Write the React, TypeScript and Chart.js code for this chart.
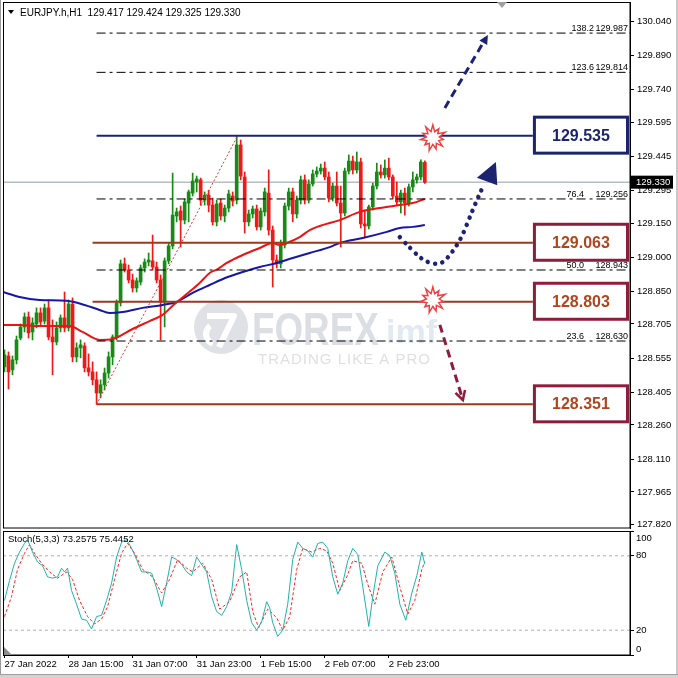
import React, { useEffect, useRef } from 'react';
import { Chart, registerables } from 'chart.js';

Chart.register(...registerables);

const FONT = '"Liberation Sans", Arial, sans-serif';

// ---------------- values ----------------
const symbolName = 'EURJPY.h,H1';
const lastQuote = ['129.417', '129.424', '129.325', '129.330'];

const openP = [
  128.516, 128.564, 128.503, 128.547, 128.643, 128.692, 128.736, 128.670, 128.705, 128.754,
  128.718, 128.776, 128.648, 128.626, 128.688, 128.732, 128.688, 128.793, 128.560, 128.600,
  128.608, 128.512, 128.494, 128.459, 128.401, 128.437, 128.489, 128.560, 128.648, 128.798,
  128.970, 128.943, 128.899, 128.864, 128.890, 128.952, 128.978, 128.983, 128.956, 128.899,
  128.807, 128.983, 129.049, 129.181, 129.203, 129.163, 129.238, 129.282, 129.331, 129.340,
  129.251, 129.273, 129.229, 129.155, 129.238, 129.181, 129.216, 129.269, 129.251, 129.494,
  129.353, 129.155, 129.190, 129.212, 129.133, 129.199, 129.282, 129.119, 128.987, 128.970,
  129.053, 129.225, 129.287, 129.190, 129.251, 129.340, 129.251, 129.322, 129.366, 129.379,
  129.392, 129.353, 129.260, 129.313, 129.238, 129.194, 129.379, 129.423, 129.384, 129.419,
  129.146, 129.137, 129.221, 129.313, 129.375, 129.362, 129.392, 129.353, 129.269, 129.243,
  129.282, 129.238, 129.309, 129.340, 129.353, 129.417,
];
const highP = [
  128.591, 128.582, 128.564, 128.652, 128.705, 128.754, 128.758, 128.732, 128.776, 128.776,
  128.793, 128.811, 128.723, 128.714, 128.745, 128.846, 128.811, 128.820, 128.622, 128.635,
  128.622, 128.573, 128.538, 128.494, 128.459, 128.511, 128.582, 128.657, 128.811, 128.987,
  128.996, 128.965, 128.925, 128.908, 128.965, 128.992, 129.018, 129.097, 128.978, 128.921,
  128.996, 129.062, 129.370, 129.216, 129.225, 129.256, 129.295, 129.370, 129.357, 129.348,
  129.287, 129.295, 129.260, 129.251, 129.256, 129.229, 129.295, 129.287, 129.535, 129.516,
  129.375, 129.207, 129.225, 129.229, 129.216, 129.304, 129.384, 129.137, 129.009, 129.075,
  129.238, 129.304, 129.304, 129.269, 129.357, 129.362, 129.340, 129.384, 129.397, 129.410,
  129.419, 129.375, 129.326, 129.375, 129.313, 129.392, 129.450, 129.445, 129.463, 129.436,
  129.207, 129.229, 129.326, 129.414, 129.406, 129.428, 129.436, 129.362, 129.331, 129.295,
  129.304, 129.322, 129.375, 129.366, 129.428, 129.424,
];
const lowP = [
  128.494, 128.419, 128.481, 128.529, 128.635, 128.670, 128.643, 128.635, 128.688, 128.696,
  128.705, 128.635, 128.481, 128.613, 128.670, 128.670, 128.674, 128.538, 128.538, 128.556,
  128.494, 128.476, 128.437, 128.351, 128.379, 128.414, 128.467, 128.525, 128.635, 128.784,
  128.934, 128.886, 128.846, 128.846, 128.877, 128.934, 128.961, 128.943, 128.886, 128.635,
  128.692, 128.970, 129.036, 129.155, 129.044, 129.146, 129.155, 129.269, 129.287, 129.229,
  129.229, 129.199, 129.141, 129.137, 129.163, 129.155, 129.199, 129.225, 129.234, 129.340,
  129.106, 129.137, 129.172, 129.119, 129.119, 129.181, 129.097, 128.868, 128.952, 128.952,
  129.040, 129.207, 129.155, 129.172, 129.234, 129.234, 129.238, 129.313, 129.353, 129.366,
  129.340, 129.243, 129.247, 129.225, 129.044, 129.181, 129.366, 129.366, 129.370, 129.128,
  129.088, 129.124, 129.207, 129.300, 129.348, 129.348, 129.340, 129.256, 129.229, 129.194,
  129.185, 129.225, 129.287, 129.326, 129.340, 129.325,
];
const closeP = [
  128.569, 128.494, 128.547, 128.635, 128.692, 128.736, 128.666, 128.710, 128.754, 128.714,
  128.776, 128.648, 128.626, 128.688, 128.732, 128.688, 128.793, 128.560, 128.600, 128.613,
  128.512, 128.494, 128.459, 128.401, 128.437, 128.489, 128.560, 128.648, 128.798, 128.970,
  128.943, 128.899, 128.864, 128.895, 128.952, 128.978, 128.987, 128.956, 128.899, 128.802,
  128.983, 129.049, 129.185, 129.199, 129.163, 129.243, 129.287, 129.335, 129.344, 129.251,
  129.273, 129.229, 129.155, 129.234, 129.181, 129.216, 129.278, 129.247, 129.494, 129.357,
  129.155, 129.190, 129.212, 129.133, 129.203, 129.287, 129.119, 128.987, 128.970, 129.058,
  129.225, 129.287, 129.190, 129.251, 129.340, 129.251, 129.322, 129.366, 129.379, 129.392,
  129.353, 129.260, 129.313, 129.238, 129.194, 129.379, 129.423, 129.384, 129.419, 129.146,
  129.137, 129.221, 129.313, 129.375, 129.362, 129.392, 129.353, 129.269, 129.243, 129.282,
  129.238, 129.309, 129.340, 129.353, 129.419, 129.330,
];

// moving averages: [bar, price]
const maRed: number[][] = [
  [-0.375, 128.701], [3.75, 128.701], [8.75, 128.696], [13.75, 128.696], [16.25, 128.696],
  [19.5, 128.67], [23.75, 128.635], [27, 128.639], [32, 128.683], [36.25, 128.718],
  [39.5, 128.745], [42, 128.785], [45.5, 128.837], [48.75, 128.886], [51.25, 128.93],
  [53.25, 128.947], [55.5, 128.974], [59.5, 129.009], [63.75, 129.04], [67, 129.062],
  [68.75, 129.053], [70.5, 129.062], [73.75, 129.088], [76.25, 129.119], [78.75, 129.137],
  [83.75, 129.163], [88.75, 129.199], [93.75, 129.216], [98.75, 129.229], [102, 129.238],
  [105, 129.256],
];
const maBlue: number[][] = [
  [-0.375, 128.846], [3.75, 128.824], [8.75, 128.811], [15.5, 128.807], [20, 128.789],
  [23.75, 128.767], [26.25, 128.754], [29.5, 128.758], [34.5, 128.776], [39.5, 128.789],
  [43, 128.802], [47, 128.842], [51.25, 128.877], [55.75, 128.912], [59.5, 128.934],
  [63.75, 128.956], [68, 128.974], [72, 128.996], [76.25, 129.018], [81.25, 129.044],
  [83.75, 129.062], [89.5, 129.084], [95.5, 129.111], [98.75, 129.128], [102, 129.133],
  [105, 129.141],
];

// stochastic %K and %D: [bar, value]
const stochK: number[][] = [
  [0, 44], [1.25, 60], [2.5, 74], [3.75, 83], [5, 90], [5.75, 93], [7, 83], [8.25, 75], [9.5, 72],
  [10.75, 63], [12, 62], [13.25, 63], [14.25, 70], [15, 67], [15.75, 70], [16.75, 52], [18, 41],
  [19.25, 29], [20.5, 28], [21.75, 21], [23, 31], [24.25, 32], [25.5, 44], [26.75, 58], [28, 79],
  [29.25, 91], [30.5, 93], [31.75, 86], [33, 77], [34.25, 67], [35.5, 67], [36.75, 66], [38, 54],
  [39.25, 39], [40.5, 58], [41.75, 79], [43, 77], [44.25, 73], [45.5, 67], [46.75, 64], [48, 79],
  [49.25, 73], [50.5, 67], [51.75, 47], [53, 35], [54.25, 32], [55.5, 39], [56.75, 51], [58, 89],
  [59.25, 69], [60.5, 44], [61.75, 26], [63, 20], [64.25, 27], [65.5, 43], [66.25, 38], [67, 26],
  [68.25, 15], [69.5, 20], [70.75, 41], [72, 77], [73.25, 91], [74.5, 86], [75.75, 84], [77, 79],
  [78.25, 90], [79.5, 91], [80.75, 86], [82, 63], [83.25, 49], [84.5, 58], [85.75, 76], [87, 86],
  [88.25, 81], [89.5, 55], [91, 23], [92, 47], [93.25, 72], [95, 83], [96.25, 80], [97.5, 66],
  [98.75, 41], [100.25, 28], [101.75, 50], [103, 64], [104.25, 83], [105, 73.2575],
];
const stochD: number[][] = [
  [0, 31], [1.75, 47], [3.25, 69], [5, 82], [6.25, 89], [7.5, 82], [9.25, 74], [11.25, 67],
  [13.25, 62], [15.5, 67], [17, 61], [18.75, 44], [20.75, 31], [22.5, 25], [24.25, 29],
  [25.75, 39], [27.5, 61], [29.25, 82], [30.75, 90], [32.5, 82], [34.5, 69], [37, 63],
  [39.25, 50], [41.25, 61], [43.25, 77], [45.5, 70], [47, 67], [49.5, 74], [51.75, 61],
  [53.75, 37], [56.25, 43], [58.75, 63], [60.5, 67], [62, 35], [63.5, 22], [65.75, 37],
  [68, 30], [69.5, 20], [71.25, 31], [73, 69], [74.5, 86], [76.75, 83], [78.75, 86], [80.5, 84],
  [82, 74], [83.75, 52], [85.5, 63], [87, 76], [89.25, 74], [90.75, 57], [92.5, 41], [94.5, 67],
  [96.75, 79], [98.75, 55], [100.75, 33], [102.5, 44], [104.25, 69], [105, 75.4452],
];
const stochTitle = 'Stoch(5,3,3) 73.2575 75.4452';

const timeLabels = ['27 Jan 2022', '28 Jan 15:00', '31 Jan 07:00', '31 Jan 23:00', '1 Feb 15:00', '2 Feb 07:00', '2 Feb 23:00'];
const timeLabelBars = [0, 16, 32, 48, 64, 80, 96];
const priceTicks = [130.04, 129.89, 129.74, 129.595, 129.445, 129.295, 129.15, 129.0, 128.85, 128.705, 128.555, 128.405, 128.26, 128.11, 127.965, 127.82];
const stochTickValues = [100, 80, 20, 0];
const stochLevels = [80, 20];

const fibRatios = ['138.2', '123.6', '76.4', '50.0', '23.6'];
const fibPrices = [129.987, 129.814, 129.256, 128.943, 128.63];
const swingLow = 128.351;
const swingHigh = 129.535;
const levelPrices = [129.535, 129.063, 128.803, 128.351];
const lastPrice = 129.33;

// ---------------- layout / drawing geometry ----------------
const X_MIN = -0.375;
const X_MAX = 156.25;
const Y_MIN = 127.806;
const Y_MAX = 130.124;
const SWING_LOW_BAR = 23;
const SWING_HIGH_BAR = 58.25;
const LEVEL_START = [23, 22, 22, 23];
const BOX_LEFT_BAR = 132;

const bullArrow = [[110, 129.657], [120.25, 129.965]];
const bearArrow = [[108.75, 128.701], [114.5, 128.37]];
const bounceCurve = [
  [98.75, 129.088], [101.75, 129.031], [104.5, 128.987], [107, 128.97], [109.25, 128.97],
  [111.75, 129.018], [114.25, 129.088], [116.25, 129.177], [118, 129.251], [119.5, 129.309],
];
const bounceHead = [[122.75, 129.419], [118.0, 129.35], [123.1, 129.316]];
const bursts = [[107, 129.525], [107, 128.811]];

const GREEN = '#178a17';
const RED = '#f01818';
const MA_RED = '#ea1414';
const MA_BLUE = '#1616a8';
const NAVY = '#1c2472';
const MAROON = '#8e1d3c';
const BROWN_LINE = '#9a3a1c';
const BOX_TEXT = '#b0461e';

function starburst(ctx: CanvasRenderingContext2D, cx: number, cy: number) {
  const n = 11;
  const outer = [13, 11, 13.5, 10.5, 12.5, 11.5, 13, 10.5, 12.5, 11, 13];
  ctx.beginPath();
  for (let k = 0; k < n * 2; k++) {
    const r = k % 2 === 0 ? outer[(k / 2) % outer.length] : 6.5;
    const a = -Math.PI / 2 + (k * Math.PI) / n;
    const x = cx + r * Math.cos(a);
    const y = cy + r * Math.sin(a);
    if (k === 0) ctx.moveTo(x, y);
    else ctx.lineTo(x, y);
  }
  ctx.closePath();
  ctx.fillStyle = '#ffffff';
  ctx.fill();
  ctx.strokeStyle = '#ee4040';
  ctx.lineWidth = 1.5;
  ctx.setLineDash([]);
  ctx.stroke();
}

function arrowHead(ctx: CanvasRenderingContext2D, x1: number, y1: number, x2: number, y2: number, len: number, halfW: number, filled: boolean) {
  const ang = Math.atan2(y2 - y1, x2 - x1);
  const bx = x2 - len * Math.cos(ang);
  const by = y2 - len * Math.sin(ang);
  const px = -Math.sin(ang) * halfW;
  const py = Math.cos(ang) * halfW;
  ctx.setLineDash([]);
  ctx.beginPath();
  ctx.moveTo(bx + px, by + py);
  ctx.lineTo(x2, y2);
  ctx.lineTo(bx - px, by - py);
  if (filled) {
    ctx.closePath();
    ctx.fill();
  } else {
    ctx.stroke();
  }
}

const mainPlugin = {
  id: 'mainDecor',
  beforeDatasetsDraw(chart: any) {
    const { ctx, chartArea: ca } = chart;
    ctx.save();
    ctx.beginPath();
    ctx.rect(ca.left, ca.top, ca.width, ca.height);
    ctx.clip();
    // watermark
    ctx.fillStyle = '#e0e1e6';
    ctx.beginPath();
    ctx.arc(221, 327, 27, 0, Math.PI * 2);
    ctx.fill();
    ctx.strokeStyle = '#ffffff';
    ctx.lineWidth = 6;
    ctx.lineJoin = 'round';
    ctx.beginPath();
    ctx.moveTo(207, 316);
    ctx.lineTo(234, 316);
    ctx.lineTo(219, 347);
    ctx.stroke();
    ctx.beginPath();
    ctx.arc(216, 334, 10, Math.PI * 0.6, Math.PI * 1.3);
    ctx.stroke();
    ctx.fillStyle = '#dcdee3';
    ctx.font = `bold 46px ${FONT}`;
    ctx.textBaseline = 'alphabetic';
    ctx.save();
    ctx.translate(252, 345);
    ctx.scale(0.8, 1);
    ctx.fillText('FOREX', 0, 0);
    ctx.restore();
    ctx.fillStyle = '#e3e9f1';
    ctx.font = `bold 34px ${FONT}`;
    ctx.fillText('imf', 386, 343);
    ctx.fillStyle = '#e0e0e0';
    ctx.font = `15px ${FONT}`;
    (ctx as any).letterSpacing = '1px';
    ctx.fillText('TRADING LIKE A PRO', 258, 364);
    (ctx as any).letterSpacing = '0px';
    ctx.restore();
  },
  afterDatasetsDraw(chart: any) {
    const { ctx, chartArea: ca, scales } = chart;
    const X = (v: number) => scales.x.getPixelForValue(v);
    const Y = (v: number) => scales.y.getPixelForValue(v);
    ctx.save();

    // level boxes
    const boxLeft = X(BOX_LEFT_BAR);
    const boxRight = ca.right - 1;
    levelPrices.forEach((p, k) => {
      const cy = Y(p);
      const top = cy - 20;
      const h = 39;
      const col = k === 0 ? NAVY : MAROON;
      ctx.fillStyle = '#ffffff';
      ctx.fillRect(boxLeft, top, boxRight - boxLeft, h);
      ctx.strokeStyle = col;
      ctx.lineWidth = 3;
      ctx.setLineDash([]);
      ctx.strokeRect(boxLeft + 1.5, top + 1.5, boxRight - boxLeft - 3, h - 3);
      ctx.fillStyle = k === 0 ? NAVY : BOX_TEXT;
      ctx.font = `bold 16px ${FONT}`;
      ctx.textAlign = 'center';
      ctx.textBaseline = 'middle';
      ctx.fillText(p.toFixed(3), (boxLeft + boxRight) / 2, top + h / 2 + 1);
    });

    // fibonacci labels
    ctx.font = `9px ${FONT}`;
    ctx.fillStyle = '#000';
    ctx.textAlign = 'right';
    ctx.textBaseline = 'alphabetic';
    fibPrices.forEach((p, k) => {
      const y = Y(p) - 2;
      ctx.fillText(p.toFixed(3), 628, y);
      ctx.fillText(fibRatios[k], k < 2 ? 594 : 584, y);
    });

    // bullish dashed arrow
    const b0x = X(bullArrow[0][0]), b0y = Y(bullArrow[0][1]);
    const b1x = X(bullArrow[1][0]), b1y = Y(bullArrow[1][1]);
    ctx.strokeStyle = NAVY;
    ctx.fillStyle = NAVY;
    ctx.lineWidth = 3;
    ctx.setLineDash([8, 5]);
    ctx.beginPath();
    ctx.moveTo(b0x, b0y);
    ctx.lineTo(b1x, b1y);
    ctx.stroke();
    arrowHead(ctx, b0x, b0y, b1x + 2, b1y - 3, 9, 4.5, true);

    // bounce dotted curve
    const pts = bounceCurve.map(([i, p]) => [X(i), Y(p)]);
    ctx.strokeStyle = NAVY;
    ctx.lineWidth = 4.5;
    ctx.lineCap = 'round';
    ctx.setLineDash([0.01, 7.5]);
    ctx.beginPath();
    ctx.moveTo(pts[0][0], pts[0][1]);
    for (let k = 1; k < pts.length - 1; k++) {
      const mx = (pts[k][0] + pts[k + 1][0]) / 2;
      const my = (pts[k][1] + pts[k + 1][1]) / 2;
      ctx.quadraticCurveTo(pts[k][0], pts[k][1], mx, my);
    }
    ctx.lineTo(pts[pts.length - 1][0], pts[pts.length - 1][1]);
    ctx.stroke();
    ctx.setLineDash([]);
    ctx.lineCap = 'butt';
    ctx.fillStyle = NAVY;
    ctx.beginPath();
    bounceHead.forEach(([i, p], k) => {
      if (k === 0) ctx.moveTo(X(i), Y(p));
      else ctx.lineTo(X(i), Y(p));
    });
    ctx.closePath();
    ctx.fill();

    // bearish dashed arrow
    const r0x = X(bearArrow[0][0]), r0y = Y(bearArrow[0][1]);
    const r1x = X(bearArrow[1][0]), r1y = Y(bearArrow[1][1]);
    ctx.strokeStyle = MAROON;
    ctx.lineWidth = 3;
    ctx.setLineDash([8, 5]);
    ctx.beginPath();
    ctx.moveTo(r0x, r0y);
    ctx.lineTo(r1x, r1y);
    ctx.stroke();
    ctx.lineWidth = 2.5;
    arrowHead(ctx, r0x, r0y, r1x, r1y, 9, 5, false);

    // starbursts
    bursts.forEach(([i, p]) => starburst(ctx, X(i), Y(p)));

    ctx.restore();
  },
  afterDraw(chart: any) {
    const { ctx, chartArea: ca, scales } = chart;
    const Y = (v: number) => scales.y.getPixelForValue(v);
    ctx.save();
    // frame
    ctx.strokeStyle = '#000';
    ctx.lineWidth = 1;
    ctx.setLineDash([]);
    ctx.strokeRect(ca.left + 0.5, ca.top + 0.5, ca.width - 0.5, ca.height - 0.5);
    // header
    ctx.fillStyle = '#000';
    ctx.beginPath();
    ctx.moveTo(8, 10);
    ctx.lineTo(14, 10);
    ctx.lineTo(11, 14);
    ctx.closePath();
    ctx.fill();
    ctx.font = `10px ${FONT}`;
    ctx.textAlign = 'left';
    ctx.textBaseline = 'middle';
    ctx.fillText(`${symbolName}  ${lastQuote.join(' ')}`, 20, 13);
    // last price label
    const py = Y(lastPrice);
    ctx.fillStyle = '#000';
    ctx.fillRect(ca.right + 1, py - 6.5, 42, 13);
    ctx.fillStyle = '#fff';
    ctx.font = `9.5px ${FONT}`;
    ctx.fillText(lastPrice.toFixed(3), ca.right + 6, py + 0.5);
    // chart-shift marker
    ctx.fillStyle = '#a0a0a0';
    ctx.beginPath();
    ctx.moveTo(497, ca.top);
    ctx.lineTo(507, ca.top);
    ctx.lineTo(502, ca.top + 6);
    ctx.closePath();
    ctx.fill();
    ctx.restore();
  },
};

const stochPlugin = {
  id: 'stochDecor',
  afterDraw(chart: any) {
    const { ctx, chartArea: ca, scales } = chart;
    const Y = (v: number) => scales.y.getPixelForValue(v);
    ctx.save();
    ctx.strokeStyle = '#000';
    ctx.lineWidth = 1;
    ctx.strokeRect(ca.left + 0.5, ca.top + 0.5, ca.width - 0.5, ca.height - 0.5);
    ctx.fillStyle = '#000';
    ctx.font = `9.5px ${FONT}`;
    ctx.textAlign = 'left';
    ctx.textBaseline = 'middle';
    ctx.fillText(stochTitle, 8, ca.top + 8);
    stochTickValues.forEach((v) => {
      let y = Y(v);
      if (v === 100) y = ca.top + 7;
      if (v === 0) y = ca.bottom - 6;
      ctx.fillText(String(v), ca.right + 6, y);
    });
    ctx.fillStyle = '#8c8c8c';
    ctx.beginPath();
    ctx.moveTo(ca.left + 1, ca.bottom - 8);
    ctx.lineTo(ca.left + 1, ca.bottom);
    ctx.lineTo(ca.left + 9, ca.bottom);
    ctx.closePath();
    ctx.fill();
    ctx.restore();
  },
};

function hLine(x0: number, x1: number, y: number) {
  return [{ x: x0, y }, { x: x1, y }];
}

export default function App() {
  const mainRef = useRef<HTMLCanvasElement>(null);
  const stochRef = useRef<HTMLCanvasElement>(null);

  useEffect(() => {
    const bars = openP.map((_, i) => i);
    const colors = bars.map((i) => (closeP[i] >= openP[i] ? GREEN : RED));
    const wickData = bars.map((i) => ({ x: i, y: [lowP[i], highP[i]] }));
    const bodyData = bars.map((i) => ({ x: i, y: [openP[i], closeP[i]] }));

    const lineBase = { type: 'line', pointRadius: 0, fill: false, tension: 0 };

    const mainDatasets: any[] = [
      { ...lineBase, data: hLine(X_MIN, X_MAX, lastPrice), borderColor: '#949ca4', borderWidth: 1, order: 9 },
      { type: 'bar', data: wickData, backgroundColor: colors, barThickness: 1, grouped: false, order: 7 },
      { type: 'bar', data: bodyData, backgroundColor: colors, barThickness: 3, grouped: false, minBarLength: 1, order: 6 },
      { ...lineBase, data: maBlue.map(([x, y]) => ({ x, y })), borderColor: MA_BLUE, borderWidth: 2, cubicInterpolationMode: 'monotone', order: 5 },
      { ...lineBase, data: maRed.map(([x, y]) => ({ x, y })), borderColor: MA_RED, borderWidth: 2, cubicInterpolationMode: 'monotone', order: 4 },
      ...fibPrices.map((p) => ({ ...lineBase, data: hLine(SWING_LOW_BAR, X_MAX, p), borderColor: '#000', borderWidth: 1, borderDash: [9, 4, 3, 4], order: 3 })),
      ...levelPrices.map((p, k) => ({ ...lineBase, data: hLine(LEVEL_START[k], BOX_LEFT_BAR, p), borderColor: k === 0 ? NAVY : BROWN_LINE, borderWidth: 2, order: 2 })),
      { ...lineBase, data: [{ x: SWING_LOW_BAR, y: swingLow }, { x: SWING_HIGH_BAR, y: swingHigh }], borderColor: '#e53030', borderWidth: 1, borderDash: [2, 2], order: 1 },
    ];

    const main = new Chart(mainRef.current as HTMLCanvasElement, {
      type: 'bar',
      data: { datasets: mainDatasets },
      options: {
        animation: false,
        responsive: false,
        maintainAspectRatio: false,
        events: [],
        layout: { padding: { left: 3, top: 2, bottom: 2, right: 0 } },
        plugins: { legend: { display: false }, tooltip: { enabled: false } },
        scales: {
          x: { type: 'linear', min: X_MIN, max: X_MAX, display: false, offset: false },
          y: {
            type: 'linear',
            position: 'right',
            min: Y_MIN,
            max: Y_MAX,
            afterBuildTicks: (s: any) => { s.ticks = priceTicks.map((v) => ({ value: v })); },
            afterFit: (s: any) => { s.width = 48; s.paddingTop = 0; s.paddingBottom = 0; },
            ticks: {
              callback: (v: any) => Number(v).toFixed(3),
              font: { family: FONT, size: 9.5 },
              color: '#000',
              padding: 3,
              autoSkip: false,
            },
            grid: { drawOnChartArea: false, drawTicks: true, tickLength: 4, color: '#000' },
            border: { display: true, color: '#000' },
          },
        },
      } as any,
      plugins: [mainPlugin],
    } as any);

    const stochDatasets: any[] = [
      ...stochLevels.map((v) => ({ ...lineBase, data: hLine(X_MIN, X_MAX, v), borderColor: '#b0b0b0', borderWidth: 1, borderDash: [3, 3], order: 3 })),
      { ...lineBase, data: stochD.map(([x, y]) => ({ x, y })), borderColor: '#ff2020', borderWidth: 1, borderDash: [3, 2], order: 2 },
      { ...lineBase, data: stochK.map(([x, y]) => ({ x, y })), borderColor: '#20b2aa', borderWidth: 1, order: 1 },
    ];

    const stoch = new Chart(stochRef.current as HTMLCanvasElement, {
      type: 'line',
      data: { datasets: stochDatasets },
      options: {
        animation: false,
        responsive: false,
        maintainAspectRatio: false,
        events: [],
        layout: { padding: { left: 3, top: 1, bottom: 0, right: 0 } },
        plugins: { legend: { display: false }, tooltip: { enabled: false } },
        scales: {
          x: {
            type: 'linear',
            min: X_MIN,
            max: X_MAX,
            offset: false,
            afterBuildTicks: (s: any) => { s.ticks = timeLabelBars.map((v) => ({ value: v })); },
            afterFit: (s: any) => { s.height = 23; s.paddingLeft = 0; s.paddingRight = 0; },
            ticks: {
              callback: (v: any) => timeLabels[timeLabelBars.indexOf(Number(v))] ?? '',
              align: 'start',
              maxRotation: 0,
              autoSkip: false,
              font: { family: FONT, size: 9.5 },
              color: '#000',
              padding: 1,
            },
            grid: { drawOnChartArea: false, drawTicks: true, tickLength: 3, color: '#000' },
            border: { display: true, color: '#000' },
          },
          y: {
            type: 'linear',
            position: 'right',
            min: 0,
            max: 100,
            afterBuildTicks: (s: any) => { s.ticks = stochTickValues.map((v) => ({ value: v })); },
            afterFit: (s: any) => { s.width = 48; s.paddingTop = 0; s.paddingBottom = 0; },
            ticks: { display: false },
            grid: { drawOnChartArea: false, drawTicks: true, tickLength: 4, color: '#000' },
            border: { display: true, color: '#000' },
          },
        },
      } as any,
      plugins: [stochPlugin],
    } as any);

    return () => {
      main.destroy();
      stoch.destroy();
    };
  }, []);

  return (
    <div style={{ position: 'absolute', left: 0, top: 0, width: 678, height: 678, background: '#ffffff', overflow: 'hidden' }}>
      <canvas ref={mainRef} width={678} height={530} style={{ position: 'absolute', left: 0, top: 0, width: 678, height: 530 }} />
      <canvas ref={stochRef} width={678} height={148} style={{ position: 'absolute', left: 0, top: 530, width: 678, height: 148 }} />
      <div style={{ position: 'absolute', left: 0, top: 0, width: 1, height: 678, background: '#9a9a9a' }} />
      <div style={{ position: 'absolute', left: 676, top: 0, width: 2, height: 678, background: '#c8c8c8' }} />
      <div style={{ position: 'absolute', left: 0, top: 674, width: 678, height: 4, background: '#d6d3cc', borderTop: '1px solid #a0a0a0' }} />
    </div>
  );
}
